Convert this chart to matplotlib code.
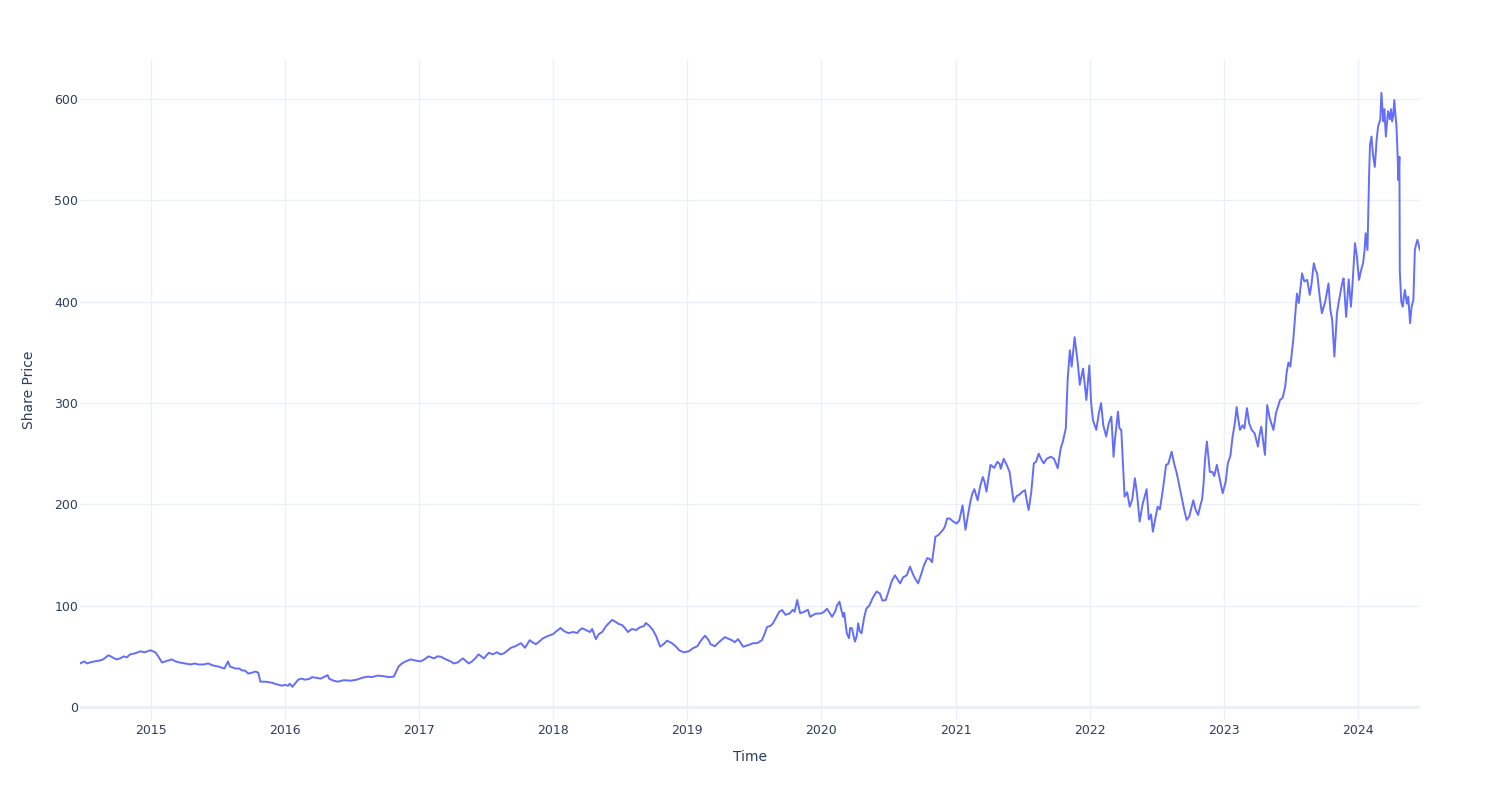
import matplotlib
matplotlib.use("Agg")
import matplotlib.pyplot as plt
import pandas as pd

dates = [
    "2014-06-23", "2014-07-20", "2014-08-17", "2014-09-08", "2014-09-24", "2014-10-10", "2014-11-07", "2014-12-04",
    "2015-01-01", "2015-01-14", "2015-02-01", "2015-02-28", "2015-04-05", "2015-05-11", "2015-06-07", "2015-07-04",
    "2015-07-21", "2015-07-31", "2015-08-20", "2015-09-08", "2015-09-24", "2015-10-21", "2015-10-27", "2015-11-28",
    "2015-12-15", "2016-01-01", "2016-01-22", "2016-02-07", "2016-02-26", "2016-03-25", "2016-04-08", "2016-04-27",
    "2016-05-13", "2016-06-29", "2016-07-31", "2016-09-10", "2016-10-24", "2016-11-06", "2016-12-09", "2017-01-05",
    "2017-01-27", "2017-03-01", "2017-03-28", "2017-04-16", "2017-04-30", "2017-05-16", "2017-06-12", "2017-06-26",
    "2017-07-10", "2017-08-20", "2017-09-08", "2017-10-05", "2017-10-16", "2017-10-29", "2017-11-15", "2017-12-17",
    "2018-01-01", "2018-01-21", "2018-02-11", "2018-03-07", "2018-03-21", "2018-04-11", "2018-04-17", "2018-04-27",
    "2018-05-14", "2018-06-10", "2018-07-07", "2018-07-23", "2018-08-03", "2018-08-25", "2018-09-10", "2018-09-29",
    "2018-10-19", "2018-11-07", "2018-11-30", "2018-12-22", "2019-01-16", "2019-02-18", "2019-03-17", "2019-04-13",
    "2019-05-02", "2019-05-19", "2019-06-02", "2019-06-29", "2019-07-23", "2019-08-06", "2019-08-22", "2019-09-08",
    "2019-09-16", "2019-10-07", "2019-10-27", "2019-11-04", "2019-12-01", "2020-01-01", "2020-01-16", "2020-01-30",
    "2020-02-19", "2020-02-29", "2020-03-10", "2020-03-24", "2020-04-01", "2020-04-10", "2020-04-19", "2020-05-02",
    "2020-05-30", "2020-06-24", "2020-07-19", "2020-08-02", "2020-08-29", "2020-09-20", "2020-10-15", "2020-10-28",
    "2020-11-06", "2020-11-27", "2020-12-08", "2020-12-25", "2021-01-03", "2021-01-19", "2021-01-27", "2021-02-10",
    "2021-02-15", "2021-03-01", "2021-03-15", "2021-03-25", "2021-04-05", "2021-04-24", "2021-05-03", "2021-05-11",
    "2021-05-27", "2021-06-07", "2021-07-01", "2021-07-18", "2021-08-01", "2021-08-14", "2021-08-28", "2021-09-16",
    "2021-10-05", "2021-10-13", "2021-10-27", "2021-11-01", "2021-11-07", "2021-11-12", "2021-11-20", "2021-11-29",
    "2021-12-04", "2021-12-13", "2021-12-22", "2021-12-30", "2022-01-09", "2022-01-18", "2022-01-31", "2022-02-14",
    "2022-02-28", "2022-03-06", "2022-03-18", "2022-03-27", "2022-04-05", "2022-04-19", "2022-05-03", "2022-05-16",
    "2022-06-04", "2022-06-10", "2022-06-21", "2022-07-04", "2022-07-18", "2022-07-27", "2022-08-11", "2022-08-25",
    "2022-09-07", "2022-09-21", "2022-10-09", "2022-10-22", "2022-11-06", "2022-11-15", "2022-11-23", "2022-12-12",
    "2022-12-28", "2023-01-11", "2023-01-24", "2023-02-04", "2023-02-13", "2023-03-04", "2023-03-17", "2023-04-03",
    "2023-04-12", "2023-04-22", "2023-04-28", "2023-05-15", "2023-06-02", "2023-06-16", "2023-06-25", "2023-06-30",
    "2023-07-08", "2023-07-18", "2023-07-23", "2023-08-01", "2023-08-15", "2023-08-22", "2023-09-02", "2023-09-11",
    "2023-09-24", "2023-10-12", "2023-10-17", "2023-10-28", "2023-11-04", "2023-11-13", "2023-11-22", "2023-11-29",
    "2023-12-06", "2023-12-12", "2023-12-23", "2024-01-03", "2024-01-14", "2024-01-21", "2024-01-26", "2024-01-31",
    "2024-02-06", "2024-02-15", "2024-02-24", "2024-03-04", "2024-03-16", "2024-03-22", "2024-04-05", "2024-04-08",
    "2024-04-14", "2024-04-19", "2024-04-22", "2024-04-23", "2024-05-01", "2024-05-07", "2024-05-16", "2024-05-21",
    "2024-05-30", "2024-06-03", "2024-06-10", "2024-06-17",
    # additional readings of the small wiggles
    "2014-07-05", "2014-07-12", "2014-08-01", "2014-08-25", "2014-09-01", "2014-09-15", "2014-10-01", "2014-10-20",
    "2014-10-28", "2014-11-20", "2014-12-15", "2014-12-24",
    "2015-01-22", "2015-02-10", "2015-02-18", "2015-03-10", "2015-03-20", "2015-04-20", "2015-05-01", "2015-05-25",
    "2015-06-20", "2015-08-05", "2015-08-30", "2015-09-15", "2015-10-05", "2015-10-13", "2015-11-10", "2015-12-05",
    "2015-12-25",
    "2016-01-10", "2016-01-15", "2016-02-15", "2016-03-10", "2016-03-15", "2016-05-01", "2016-05-25", "2016-06-10",
    "2016-07-15", "2016-08-15", "2016-08-25", "2016-09-25", "2016-10-10", "2016-11-15", "2016-11-25", "2016-12-20",
    "2017-01-15", "2017-02-10", "2017-02-20", "2017-03-15", "2017-04-05", "2017-05-25", "2017-06-05", "2017-07-20",
    "2017-08-01", "2017-08-10", "2017-09-20", "2017-10-10", "2017-11-05", "2017-11-25", "2017-12-05",
    "2018-01-10", "2018-01-30", "2018-02-25", "2018-03-14", "2018-05-05", "2018-05-25", "2018-06-20", "2018-06-28",
    "2018-07-15", "2018-08-15", "2018-09-05", "2018-09-20", "2018-10-08", "2018-10-28", "2018-11-20", "2018-12-10",
    "2019-01-05", "2019-01-28", "2019-02-08", "2019-02-28", "2019-03-05", "2019-03-28", "2019-04-25", "2019-05-10",
    "2019-06-15", "2019-07-10", "2019-07-30", "2019-08-15", "2019-08-30", "2019-09-25", "2019-10-15", "2019-10-20",
    "2019-11-15", "2019-11-25", "2019-12-15",
    "2020-01-08", "2020-01-23", "2020-02-08", "2020-02-12", "2020-02-24", "2020-03-03", "2020-03-16", "2020-03-19",
    "2020-04-06", "2020-04-14", "2020-04-26", "2020-05-10", "2020-05-20", "2020-06-08", "2020-06-15", "2020-07-05",
    "2020-07-10", "2020-08-10", "2020-08-20", "2020-09-05", "2020-09-10", "2020-10-01", "2020-10-06", "2020-10-22",
    "2020-11-15", "2020-12-02", "2020-12-15",
    "2021-01-10", "2021-02-03", "2021-02-20", "2021-03-08", "2021-03-20", "2021-04-15", "2021-04-30", "2021-05-18",
    "2021-06-15", "2021-06-24", "2021-07-08", "2021-07-12", "2021-07-25", "2021-08-07", "2021-08-22", "2021-09-05",
    "2021-09-25", "2021-10-19",
    "2022-01-04", "2022-01-25", "2022-02-06", "2022-02-21", "2022-03-10", "2022-03-22", "2022-04-12", "2022-04-26",
    "2022-05-09", "2022-05-24", "2022-06-16", "2022-06-27", "2022-07-10", "2022-08-02", "2022-08-18", "2022-09-01",
    "2022-09-14", "2022-09-28", "2022-10-15", "2022-10-29", "2022-11-02", "2022-11-10", "2022-11-30", "2022-12-05",
    "2022-12-20",
    "2023-01-05", "2023-01-18", "2023-01-30", "2023-02-08", "2023-02-20", "2023-02-25", "2023-03-10", "2023-03-25",
    "2023-04-07", "2023-05-05", "2023-05-22", "2023-06-09", "2023-06-20", "2023-07-13", "2023-08-07", "2023-08-27",
    "2023-09-06", "2023-09-18", "2023-10-03", "2023-10-22", "2023-11-09", "2023-11-18", "2023-12-16", "2023-12-28",
    "2024-01-08", "2024-01-18", "2024-02-02", "2024-02-10", "2024-02-20", "2024-03-01", "2024-03-09", "2024-03-12",
    "2024-03-27", "2024-03-30", "2024-04-02", "2024-04-11", "2024-04-17", "2024-04-27", "2024-05-04", "2024-05-12",
    "2024-05-25", "2024-06-06", "2024-06-14",
]

share_price = [
    43, 44, 46, 51, 48, 48, 52, 55,
    56, 54, 44, 47, 43, 42, 43, 40,
    38, 45, 38, 36, 33, 34, 25, 24,
    22, 22, 20, 27, 27, 29, 28, 31.5,
    26, 26, 29, 31, 30, 40, 47, 45,
    50, 49.7, 45, 44, 48, 43, 52, 48,
    53.6, 53, 58.5, 63, 58.5, 66, 62, 70,
    72, 78, 73, 73, 77.7, 74, 77, 67,
    74, 86, 81, 74, 77, 78.7, 83, 76,
    59.5, 65.5, 60, 54, 58, 70.4, 60, 69,
    66, 67, 59.5, 63, 66, 79, 82.6, 94,
    95.7, 92.5, 105.6, 92.5, 89, 92.5, 97, 89,
    104, 89, 72.7, 77.7, 64.5, 82.6, 72.7, 97,
    114, 105.6, 130, 122, 138.5, 122, 147, 143,
    168, 175, 186, 183, 181, 199, 175, 204,
    211, 204, 227, 212.5, 239, 242, 235, 245,
    232, 202.6, 212.5, 194.5, 240.5, 250, 240.5, 247,
    235.6, 255, 275, 323, 352, 336, 365, 338,
    318, 334, 303, 337, 283, 273.5, 300, 267,
    286.6, 247, 291.5, 273.5, 207.6, 197.7, 225.8, 183,
    215, 185, 173, 197.7, 214, 239, 252, 230.7,
    207.6, 184.6, 204, 189.5, 220.8, 262, 232, 239,
    211, 240.5, 267, 296, 273.5, 295, 273.5, 257,
    276.7, 248.8, 298, 273.5, 303, 316, 340, 336,
    362, 408, 398.6, 428, 421.5, 406.7, 438, 428,
    388.6, 418, 392, 345.8, 388.6, 408, 423, 385,
    422, 395, 457.7, 421.5, 438, 467.6, 451, 533,
    563, 533, 573, 606, 563, 588, 583, 599,
    573, 520, 543, 431, 395, 411.6, 405, 378.8,
    401.8, 451, 461, 451,
    # additional readings of the small wiggles
    45, 43, 45, 47, 49, 50, 47, 50,
    49, 53, 54, 55,
    50, 45, 46, 45, 44, 42, 43, 42,
    41, 40, 38, 36, 34, 35, 25, 23,
    21,
    21, 23, 28, 28, 29.5, 28, 25, 26.5,
    27, 30, 29.5, 30.5, 29.5, 43, 45, 46,
    47, 48, 50, 47, 43, 45, 49, 52,
    54, 52, 60, 61, 64, 65, 68,
    75, 75, 74, 76, 72, 80, 84, 82,
    78, 76, 80, 80, 70, 62, 63, 56,
    55, 60, 66, 66, 62, 64, 67, 64,
    61, 63, 72, 80, 88, 91, 96, 94,
    94, 96, 92,
    94, 93, 95, 100, 96, 93, 68, 78,
    70, 75, 88, 100, 108, 112, 105, 118,
    124, 128, 130, 132, 128, 134, 140, 146,
    170, 178, 186,
    184, 190, 215, 218, 222, 236, 240, 240,
    208, 210, 214, 205, 212, 242, 244, 245,
    245, 262,
    300, 290, 278, 280, 265, 275, 212, 205,
    210, 200, 190, 185, 195, 240, 240, 218,
    195, 188, 195, 200, 205, 245, 232, 228,
    225,
    222, 248, 280, 285, 278, 275, 280, 270,
    268, 285, 290, 305, 330, 385, 420, 418,
    432, 405, 400, 382, 400, 418, 415, 445,
    430, 450, 555, 545, 560, 580, 578, 590,
    580, 590, 578, 585, 545, 400, 405, 398,
    395, 456, 455,
]

x_title = "Time"
y_title = "Share Price"
y_ticks = [0, 100, 200, 300, 400, 500, 600]
x_tick_years = list(range(2015, 2025))

plt.rcParams["font.family"] = ["DejaVu Sans"]
text_color = "#2a3f5f"
grid_color = "#EBF0F8"
line_color = "#636EFA"

df = pd.DataFrame({"date": pd.to_datetime(dates), "price": share_price}).sort_values("date")

fig = plt.figure(figsize=(15, 8), dpi=100)
ax = fig.add_axes([80 / 1500, 80 / 800, 1340 / 1500, 660 / 800])
ax.plot(df["date"], df["price"], color=line_color, linewidth=1.4,
        solid_joinstyle="round", zorder=3)

ax.set_xlim(df["date"].iloc[0], df["date"].iloc[-1])
ax.set_ylim(-12.8, 638.5)

ax.set_yticks(y_ticks)
ax.set_yticklabels([str(v) for v in y_ticks])
xt = pd.to_datetime([f"{y}-01-01" for y in x_tick_years])
ax.set_xticks(xt)
ax.set_xticklabels([str(y) for y in x_tick_years])

for s in ax.spines.values():
    s.set_visible(False)
ax.grid(True, color=grid_color, linewidth=1.0, zorder=0)
ax.axhline(0, color=grid_color, linewidth=2.0, zorder=1)
ax.set_axisbelow(True)

ax.tick_params(axis="both", length=0, labelsize=9, labelcolor=text_color)
ax.tick_params(axis="y", pad=1.3)
ax.tick_params(axis="x", pad=3)

ax.set_xlabel(x_title, fontsize=10, color=text_color, labelpad=9)
ax.set_ylabel(y_title, fontsize=10, color=text_color, labelpad=13)

fig.savefig("out.png", dpi=100, facecolor="white")
